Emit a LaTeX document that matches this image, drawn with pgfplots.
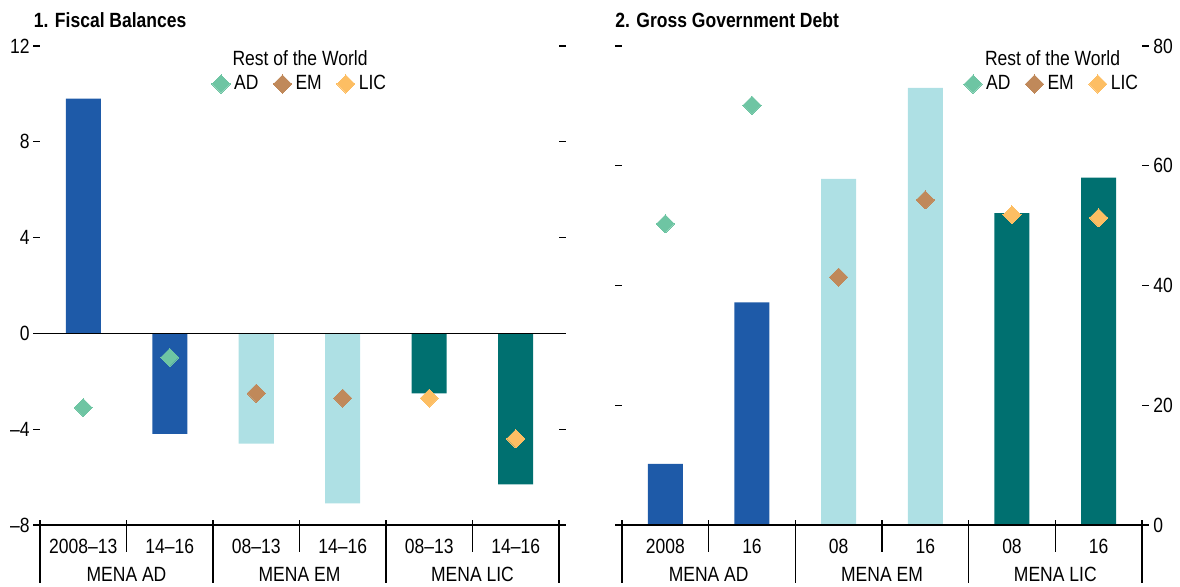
\documentclass[border=0pt]{standalone}
\usepackage{fontspec}
\setmainfont{Liberation Sans}[FakeStretch=0.85]
\usepackage{pgfplots}
\pgfplotsset{compat=1.18}

\definecolor{cBlue}{HTML}{1E5AA8}
\definecolor{cCyan}{HTML}{AEE0E4}
\definecolor{cTeal}{HTML}{007070}
\definecolor{cAD}{HTML}{6EC5A3}
\definecolor{cEM}{HTML}{C0895A}
\definecolor{cLIC}{HTML}{FDBE63}

\newcommand\fs{\fontsize{10.3pt}{12pt}\selectfont}

\pgfplotsset{
 panel/.style={
  scale only axis, height=239.5pt, xmin=-0.5, xmax=5.5,
  axis line style={draw=none},
  xtick=\empty,
  tick align=outside, major tick length=3.5pt,
  ytick pos=both,
  tick style={black, line width=0.6pt},
  tick label style={font=\fs},
  /pgf/number format/assume math mode=true,
  clip=false,
  legend columns=3,
  legend style={draw=none, fill=none, font=\fs, anchor=center, inner sep=0pt,
    /tikz/every even column/.append style={column sep=5.5pt}},
 },
 bars/.style={ybar, bar width=17.5pt, bar shift=0pt, draw=none, fill=#1, forget plot},
 pts/.style={only marks, color=#1, mark=square*, mark size=3.2pt,
   mark options={rotate=45, draw=#1, fill=#1, line width=0pt},
   legend image code/.code={\draw[##1] plot coordinates {(4.5pt,0pt)};}},
}

\begin{document}
\begin{tikzpicture}
\useasboundingbox (0,0) rectangle (590pt,293pt);

% ---------- Panel 1 ----------
\begin{axis}[panel, at={(20pt,30.5pt)}, anchor=south west, width=259.5pt,
  ymin=-8, ymax=12, ytick={-8,-4,0,4,8,12}, yticklabels={--8,--4,0,4,8,12},
  yticklabel pos=left, yticklabel style={inner sep=1.5pt},
  legend style={at={(0.503,0.9207)}}]
\addplot[bars=cBlue] coordinates {(0,9.8) (1,-4.2)};
\addplot[bars=cCyan] coordinates {(2,-4.6) (3,-7.1)};
\addplot[bars=cTeal] coordinates {(4,-2.5) (5,-6.3)};
\draw[line width=0.6pt] (axis cs:-0.5,0) -- (axis cs:5.5,0);
\addplot[pts=cAD] coordinates {(0,-3.1) (1,-1.0)};
\addplot[pts=cEM] coordinates {(2,-2.5) (3,-2.7)};
\addplot[pts=cLIC] coordinates {(4,-2.7) (5,-4.4)};
\legend{AD,EM,LIC}
\node[anchor=base, font=\fs] at (rel axis cs:0.501,0.9603) {Rest of the World};
\draw[line width=0.6pt] ([xshift=-3.5pt]axis cs:-0.5,-8) -- ([xshift=3.5pt]axis cs:5.5,-8);
\pgfplotsinvokeforeach{-0.5,1.5,3.5,5.5}{
  \draw[line width=0.6pt] ([yshift=2.5pt]axis cs:#1,-8) -- ([yshift=-29pt]axis cs:#1,-8);}
\pgfplotsinvokeforeach{0.5,2.5,4.5}{
  \draw[line width=0.6pt] ([yshift=2.5pt]axis cs:#1,-8) -- ([yshift=-13.5pt]axis cs:#1,-8);}
\node[anchor=base, font=\fs] at ([yshift=-14pt]axis cs:0,-8) {2008--13};
\node[anchor=base, font=\fs] at ([yshift=-14pt]axis cs:1,-8) {14--16};
\node[anchor=base, font=\fs] at ([yshift=-14pt]axis cs:2,-8) {08--13};
\node[anchor=base, font=\fs] at ([yshift=-14pt]axis cs:3,-8) {14--16};
\node[anchor=base, font=\fs] at ([yshift=-14pt]axis cs:4,-8) {08--13};
\node[anchor=base, font=\fs] at ([yshift=-14pt]axis cs:5,-8) {14--16};
\node[anchor=base, font=\fs] at ([yshift=-28pt]axis cs:0.5,-8) {MENA AD};
\node[anchor=base, font=\fs] at ([yshift=-28pt]axis cs:2.5,-8) {MENA EM};
\node[anchor=base, font=\fs] at ([yshift=-28pt]axis cs:4.5,-8) {MENA LIC};
\end{axis}

% ---------- Panel 2 ----------
\begin{axis}[panel, at={(311pt,30.5pt)}, anchor=south west, width=260pt,
  ymin=0, ymax=80, ytick={0,20,40,60,80},
  yticklabel pos=right, yticklabel style={inner sep=2pt},
  legend style={at={(0.829,0.9207)}}]
\addplot[bars=cBlue] coordinates {(0,10.2) (1,37.2)};
\addplot[bars=cCyan] coordinates {(2,57.8) (3,73.0)};
\addplot[bars=cTeal] coordinates {(4,52.1) (5,58.0)};
\addplot[pts=cAD] coordinates {(0,50.3) (1,70.1)};
\addplot[pts=cEM] coordinates {(2,41.4) (3,54.3)};
\addplot[pts=cLIC] coordinates {(4,51.8) (5,51.3)};
\legend{AD,EM,LIC}
\node[anchor=base, font=\fs] at (rel axis cs:0.828,0.9603) {Rest of the World};
\draw[line width=0.6pt] ([xshift=-3.5pt]axis cs:-0.5,0) -- ([xshift=3.5pt]axis cs:5.5,0);
\pgfplotsinvokeforeach{-0.5,1.5,3.5,5.5}{
  \draw[line width=0.6pt] ([yshift=2.5pt]axis cs:#1,0) -- ([yshift=-29pt]axis cs:#1,0);}
\pgfplotsinvokeforeach{0.5,2.5,4.5}{
  \draw[line width=0.6pt] ([yshift=2.5pt]axis cs:#1,0) -- ([yshift=-13.5pt]axis cs:#1,0);}
\node[anchor=base, font=\fs] at ([yshift=-14pt]axis cs:0,0) {2008};
\node[anchor=base, font=\fs] at ([yshift=-14pt]axis cs:1,0) {16};
\node[anchor=base, font=\fs] at ([yshift=-14pt]axis cs:2,0) {08};
\node[anchor=base, font=\fs] at ([yshift=-14pt]axis cs:3,0) {16};
\node[anchor=base, font=\fs] at ([yshift=-14pt]axis cs:4,0) {08};
\node[anchor=base, font=\fs] at ([yshift=-14pt]axis cs:5,0) {16};
\node[anchor=base, font=\fs] at ([yshift=-28pt]axis cs:0.5,0) {MENA AD};
\node[anchor=base, font=\fs] at ([yshift=-28pt]axis cs:2.5,0) {MENA EM};
\node[anchor=base, font=\fs] at ([yshift=-28pt]axis cs:4.5,0) {MENA LIC};
\end{axis}

\node[anchor=base west, inner sep=0pt, font=\fs\bfseries] at (16.75pt,279.5pt) {1. Fiscal Balances};
\node[anchor=base west, inner sep=0pt, font=\fs\bfseries] at (307.5pt,279.5pt) {2. Gross Government Debt};
\end{tikzpicture}
\end{document}
